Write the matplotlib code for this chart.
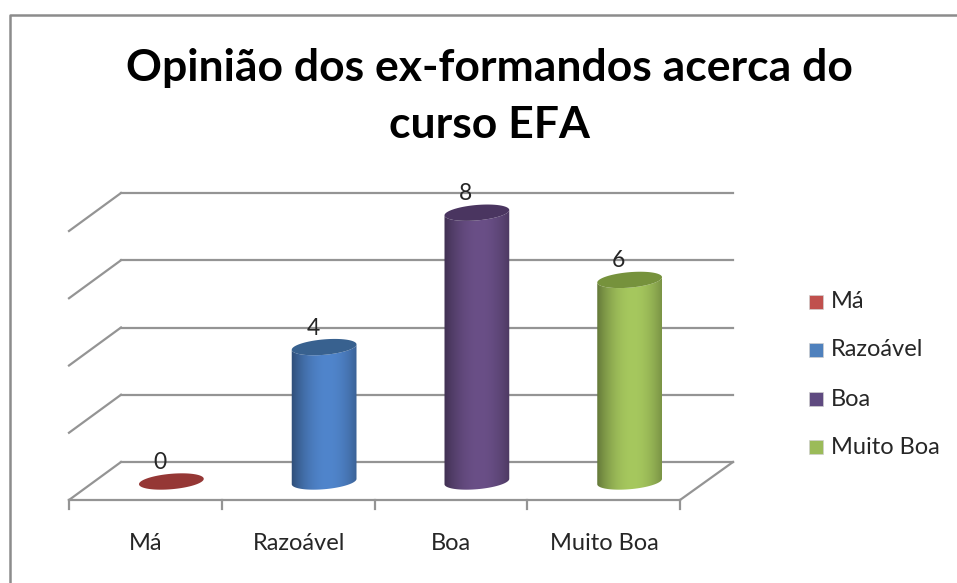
import matplotlib.pyplot as plt
import matplotlib.colors as mcolors
import numpy as np
from matplotlib.patches import Rectangle, Polygon

plt.rcParams["font.family"] = ["Lato", "DejaVu Sans"]

# -----------------------------
# Data
# -----------------------------
categories = ["Má", "Razoável", "Boa", "Muito Boa"]
values = [0, 4, 8, 6]
y_levels = [0, 2, 4, 6, 8]
title_lines = ["Opinião dos ex-formandos acerca do", "curso EFA"]

# -----------------------------
# Colours
# -----------------------------
colors = ["#A5383A", "#5085CC", "#6A4F87", "#A6C85E"]
legend_colors = ["#C0504D", "#4F81BD", "#5F4A80", "#9BBB59"]
top_colors = ["#953735", "#38618F", "#4A3560", "#76923C"]
grid_color = "#949494"
frame_color = "#8c8c8c"
text_color = "#262626"

W, H = 957, 583
fig = plt.figure(figsize=(W / 100, H / 100), dpi=100)

# pixel coordinates for the frame, value scale for the chart
ax = fig.add_axes([0, 0, 1, 1])
ax.set_xlim(0, W)
ax.set_ylim(H, 0)
ax.axis("off")

# outer frame: left and top only, the rest is cropped away
ax.plot([9.5, 9.5, 957], [583, 15, 15], color=frame_color, lw=1.8)

y_zero_back = 462
y_step = 33.6
y_front = 500
dx_depth = 52
x_left = 69
x_right = 680
cat_w = (x_right - x_left) / len(categories)


def level_y(v):
    return y_zero_back - v * (y_zero_back - 193) / 8


# -----------------------------
# Gridlines
# -----------------------------
for lv in y_levels:
    y = level_y(lv)
    ax.plot([x_left + dx_depth, 733], [y, y], color=grid_color, lw=1.6, zorder=1)
    ax.plot([x_left, x_left + dx_depth], [y + 38, y], color=grid_color, lw=1.6, zorder=1)

ax.plot([x_left, x_right], [y_front, y_front], color=grid_color, lw=1.6, zorder=1)
ax.plot([x_right, 733], [y_front, y_zero_back], color=grid_color, lw=1.6, zorder=1)

for i in range(len(categories) + 1):
    x = x_left + i * cat_w
    ax.plot([x, x], [y_front, y_front + 9], color=grid_color, lw=1.6, zorder=1)

# -----------------------------
# Cylinders
# -----------------------------
rx = 32.5
ry = 7.7
tilt = np.radians(-5)
base_y = 481.5


def ellipse_xy(cx, cy, t):
    x = rx * np.cos(t)
    y = ry * np.sin(t)
    return (cx + x * np.cos(tilt) - y * np.sin(tilt),
            cy + x * np.sin(tilt) + y * np.cos(tilt))


for i, (val, col, top) in enumerate(zip(values, colors, top_colors)):
    cx = x_left + (i + 0.5) * cat_w + 26
    y_top = base_y - val * y_step
    ring = np.linspace(0, 2 * np.pi, 90)
    if val > 0:
        # dark at the sides, brightest a little right of the middle
        rgb = np.array(mcolors.to_rgb(col))
        t = np.linspace(0, 1, 128)
        shade = 1 - 0.42 * np.abs((t - 0.55) / 0.55) ** 2
        img = np.clip(rgb[None, None, :] * shade[None, :, None], 0, 1)
        im = ax.imshow(img, extent=[cx - rx - 1, cx + rx + 1, base_y + ry + 2, y_top - ry - 5],
                       aspect="auto", zorder=3, interpolation="bilinear")
        # outline: lower half of the base, then back along the top
        a = np.linspace(0, np.pi, 45)
        bx, by = ellipse_xy(cx, base_y, a)
        tx, ty = ellipse_xy(cx, y_top, a[::-1])
        clip = Polygon(np.column_stack([np.r_[bx, tx], np.r_[by, ty]]),
                       transform=ax.transData, fc="none", ec="none")
        ax.add_patch(clip)
        im.set_clip_path(clip)
    ex, ey = ellipse_xy(cx, y_top, ring)
    ax.add_patch(Polygon(np.column_stack([ex, ey]), fc=top, ec="none", zorder=4))
    ax.text(cx - 11, y_top - 19, str(val), ha="center", va="center",
            fontsize=16.5, color=text_color, zorder=5)
    ax.text(x_left + (i + 0.5) * cat_w + 0.5, 543, categories[i], ha="center", va="center",
            fontsize=17, color=text_color)

ax.set_xlim(0, W)
ax.set_ylim(H, 0)

# -----------------------------
# Legend
# -----------------------------
for name, col, y in zip(categories, legend_colors, [302, 350, 399, 447]):
    ax.add_patch(Rectangle((809, y - 7), 14, 14, fc=col, ec="#d0d0d0", lw=0.5))
    ax.text(831, y, name, ha="left", va="center", fontsize=17, color=text_color)

# -----------------------------
# Title
# -----------------------------
for line, y in zip(title_lines, [68, 125]):
    ax.text(489.5, y, line, ha="center", va="center", fontsize=32,
            fontweight="bold", color="black")

fig.savefig("out.png", dpi=100)
